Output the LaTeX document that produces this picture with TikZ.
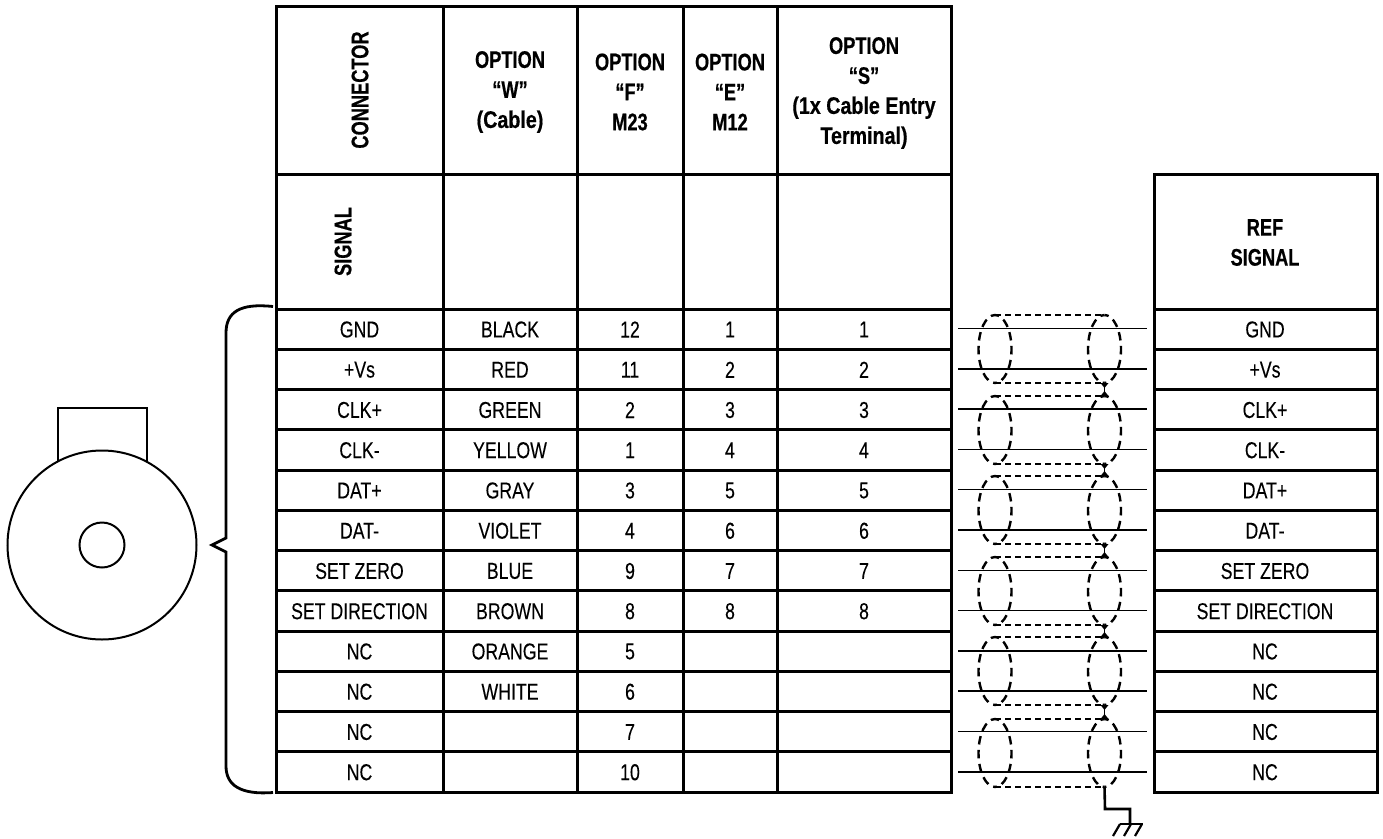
\documentclass[tikz,border=0pt]{standalone}
\usepackage{fontspec}
\setmainfont{Liberation Sans}
\newfontfamily\narrowf[FakeStretch=0.77,FakeBold=0.15]{Liberation Sans}
\newfontfamily\narrowb[FakeStretch=0.76,BoldFeatures={FakeBold=0.5}]{Liberation Sans}
\newfontfamily\narrowm[FakeStretch=0.82,BoldFeatures={FakeBold=0.5}]{Liberation Sans}
\begin{document}
\begin{tikzpicture}[x=1pt,y=-1pt,line join=miter,
  cell/.style={font=\narrowf\fontsize{23}{26}\selectfont,inner sep=0pt,anchor=center},
  head/.style={font=\narrowb\bfseries\fontsize{24}{30}\selectfont,inner sep=0pt,align=center,anchor=center},
  grid/.style={line width=3pt,black},
  wire/.style={line width=1.5pt,black},
  shield/.style={line width=2.4pt,dash pattern=on 8.5pt off 5.5pt,dash phase=4.25pt,black},
  braid/.style={line width=1.4pt,dash pattern=on 6pt off 4pt,black},
  link/.style={line width=1.4pt,black},
  fig/.style={line width=2pt,black}]
\useasboundingbox (0,0) rectangle (1383,838);
% main table
\draw[grid] (276,6) rectangle (951,792);
\foreach \x in {443,577,683,777} \draw[grid] (\x,6) -- (\x,792);
\draw[grid] (276,174) -- (951,174);
\draw[grid] (1154,174) rectangle (1377,792);
\foreach \i in {0,...,11}{
  \pgfmathsetmacro\yy{309+40.25*\i}
  \draw[grid] (276,\yy) -- (951,\yy);
  \draw[grid] (1154,\yy) -- (1377,\yy);
}
% headers
\node[head,rotate=90] (hconn) at (360,90) {CONNECTOR};
\node[head,rotate=90] (hsig) at (343,241.5) {SIGNAL};
\node[head] (hw) at (510,92) {OPTION\\“W”\\{\narrowm\bfseries (Cable)}};
\node[head] (hf) at (630,92) {OPTION\\“F”\\M23};
\node[head] (he) at (730,92) {OPTION\\“E”\\M12};
\node[head] (hs) at (864,93) {OPTION\\“S”\\{\narrowm\bfseries (1x Cable Entry}\\{\narrowm\bfseries Terminal)}};
\node[head] (href) at (1265,242.5) {REF\\SIGNAL};
% rows
\foreach \i/\s/\w/\f/\e/\t in {
 0/GND/BLACK/12/1/1, 1/+Vs/RED/11/2/2, 2/CLK+/GREEN/2/3/3, 3/CLK-/YELLOW/1/4/4,
 4/DAT+/GRAY/3/5/5, 5/DAT-/VIOLET/4/6/6, 6/SET ZERO/BLUE/9/7/7, 7/SET DIRECTION/BROWN/8/8/8,
 8/NC/ORANGE/5//, 9/NC/WHITE/6//, 10/NC//7//, 11/NC//10//}{
  \pgfmathsetmacro\yy{329.5+40.25*\i}
  \pgfmathsetmacro\wy{328.5+40.3*\i}
  \node[cell] (s\i) at (359.5,\yy) {\s};
  \node[cell] (w\i) at (510,\yy) {\w};
  \node[cell] (f\i) at (630,\yy) {\f};
  \node[cell] (e\i) at (730,\yy) {\e};
  \node[cell] (t\i) at (864,\yy) {\t};
  \node[cell] (r\i) at (1265,\yy) {\s};
  \draw[wire] (958,\wy) -- (1146.5,\wy);
}
% shields
\foreach \n/\c in {1/349,2/430,3/510,4/591,5/671,6/753}{
  \pgfmathsetmacro\tp{\c-34}
  \pgfmathsetmacro\bt{\c+34}
  \coordinate (lt\n) at (995,\tp);
  \coordinate (rt\n) at (1104.5,\tp);
  \coordinate (lb\n) at (995,\bt);
  \coordinate (rb\n) at (1104.5,\bt);
  \draw[shield] (lt\n) arc[start angle=90,end angle=-90,x radius=16.5,y radius=-34];
  \draw[shield] (lt\n) arc[start angle=90,end angle=270,x radius=16.5,y radius=-34];
  \draw[shield] (rt\n) arc[start angle=90,end angle=-90,x radius=16.5,y radius=-34];
  \draw[shield] (rt\n) arc[start angle=90,end angle=270,x radius=16.5,y radius=-34];
  \draw[braid] (lt\n) -- (rt\n);
  \draw[braid] (lb\n) -- (rb\n);
}
% links between shields
\foreach \a/\b in {1/2,2/3,3/4,4/5,5/6}{
  \draw[link] (rb\a) -- (rt\b);
  \fill (rb\a) ++(-4,0) -- ++(8,0) -- ++(-4,5) -- cycle;
  \fill (rt\b) ++(-4,0) -- ++(8,0) -- ++(-4,-5) -- cycle;
}
% ground
\coordinate (g1) at (1105,809);
\coordinate (g2) at (1130,809);
\coordinate (g3) at (1130,824);
\draw[line width=2.6pt] (rb6) -- (g1) -- (g2) -- (g3);
\draw[line width=2.2pt] (1120,824) -- (1142.5,824);
\foreach \x in {1120,1131,1142} \draw[line width=2.2pt] (\x,824) -- ++(-7,12);
% brace
\draw[line width=2.8pt] (273,306.5) .. controls (240,303) and (226,312) .. (226,333)
  -- (226,538) -- (212,545) -- (226,552) -- (226,766) .. controls (226,785) and (240,795) .. (273,792.5);
% encoder
\node[draw,fig,circle,minimum size=189pt,inner sep=0pt] (body) at (102,545) {};
\node[draw,fig,circle,minimum size=45pt,inner sep=0pt] (hub) at (102,545) {};
\draw[fig] (57.5,462) -- (57.5,408) -- (147,408) -- (147,462);
\end{tikzpicture}
\end{document}
